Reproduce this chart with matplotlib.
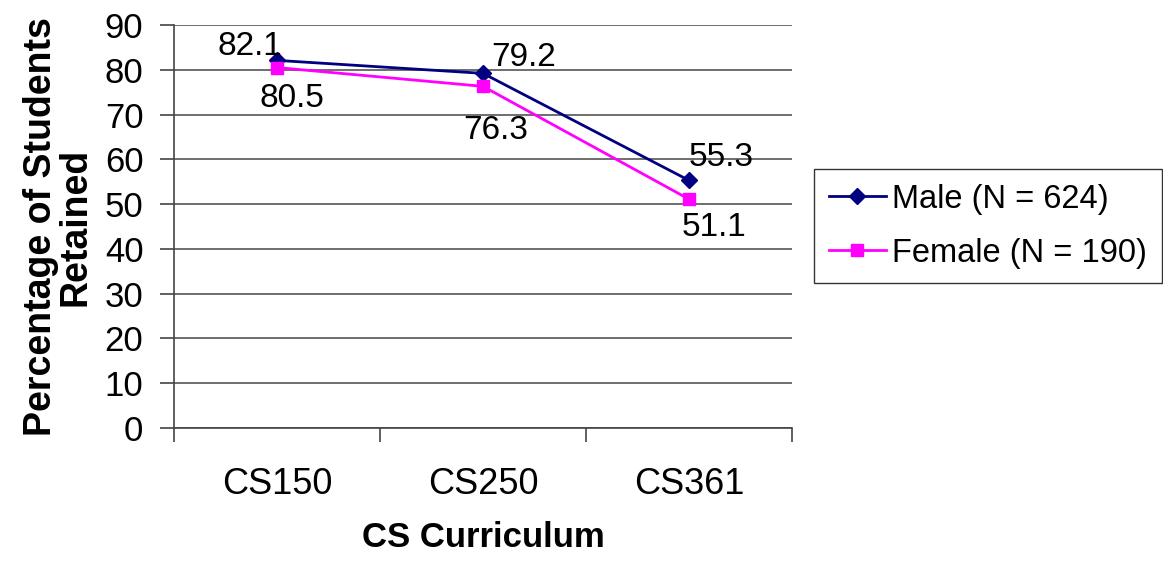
import matplotlib.pyplot as plt
from matplotlib.ticker import FixedLocator, NullFormatter, FixedFormatter

plt.rcParams['font.family'] = ['Liberation Sans', 'DejaVu Sans']

courses = ["CS150", "CS250", "CS361"]
male = [82.1, 79.2, 55.3]
female = [80.5, 76.3, 51.1]
male_label = "Male (N = 624)"
female_label = "Female (N = 190)"

# label offsets in pixels
male_off = [(-27, 14), (41, 16), (32, 23)]
female_off = [(15, -31), (13, -44), (25, -28)]

fig = plt.figure(figsize=(11.63, 5.63), dpi=100)
ax = fig.add_axes([174 / 1163, 1 - 428 / 563, (792 - 174) / 1163, (428 - 25) / 563])

x = [i + 0.5 for i in range(len(courses))]
ax.plot(x, male, color="#000080", marker="D", markersize=8, lw=2, label=male_label, zorder=3)
ax.plot(x, female, color="#FF00FF", marker="s", markersize=8, lw=2, label=female_label, zorder=3)

for xi, v, off in zip(x, male, male_off):
    ax.annotate(f"{v}", (xi, v), xytext=off, textcoords="offset pixels",
                ha="center", va="center", fontsize=24)
for xi, v, off in zip(x, female, female_off):
    ax.annotate(f"{v}", (xi, v), xytext=off, textcoords="offset pixels",
                ha="center", va="center", fontsize=24)

ax.set_xlim(0, 3)
ax.set_ylim(0, 90)
ax.set_yticks(range(0, 91, 10))
ax.yaxis.grid(True, color="#555555", lw=1.2)
ax.set_axisbelow(True)

ax.xaxis.set_major_locator(FixedLocator([0, 1, 2, 3]))
ax.xaxis.set_major_formatter(NullFormatter())
ax.xaxis.set_minor_locator(FixedLocator(x))
ax.xaxis.set_minor_formatter(FixedFormatter(courses))
ax.tick_params(axis="x", which="major", direction="out", length=10, width=1.2, color="#444444")
ax.tick_params(axis="x", which="minor", length=0, pad=28, labelsize=26)
ax.tick_params(axis="y", direction="out", length=10, width=1.2, color="#444444", pad=12, labelsize=25)

for s in ["top", "right"]:
    ax.spines[s].set_visible(False)
for s in ["left", "bottom"]:
    ax.spines[s].set_color("#444444")
    ax.spines[s].set_linewidth(1.2)

ax.set_xlabel("CS Curriculum", fontsize=25, fontweight="bold", labelpad=14)
ax.set_ylabel("Percentage of Students\nRetained", fontsize=27, fontweight="bold", labelpad=8,
              linespacing=0.95)

leg = fig.legend(loc="upper left", bbox_to_anchor=(814 / 1163, 1 - 169 / 563),
                 fontsize=23.5, frameon=True, fancybox=False, edgecolor="black",
                 borderaxespad=0, handlelength=1.75, handletextpad=0.2,
                 borderpad=0.45, labelspacing=0.7)
leg.get_frame().set_linewidth(1)

fig.savefig("out.png", dpi=100)
